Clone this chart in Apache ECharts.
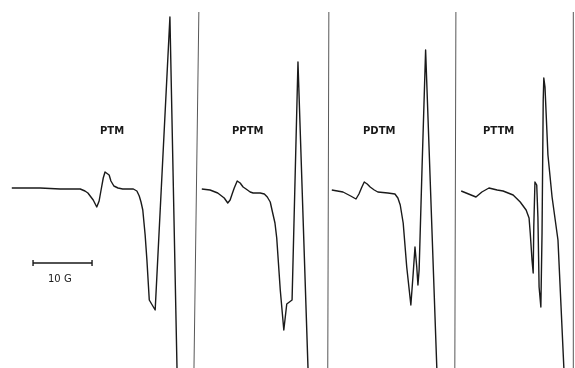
<!DOCTYPE html>
<html>
<head>
<meta charset="utf-8">
<script src="https://cdn.jsdelivr.net/npm/echarts@6/dist/echarts.min.js"></script>
<style>
html,body{margin:0;padding:0;background:#fff;}
#chart{width:575px;height:368px;}
</style>
</head>
<body>
<div id="chart"></div>
<script>
// Spectrum labels
const spectrumNames = ['PTM', 'PPTM', 'PDTM', 'PTTM'];

// Field (G, relative to panel start) and signal (a.u.) for each spectrum
const ptmField  = [2.0, 6.8, 10.2, 13.6, 14.4, 14.9, 15.8, 16.4, 16.8, 17.1, 17.5, 17.8, 18.1, 18.5, 18.8, 19.3, 20.0, 20.8, 22.6, 23.2, 23.6, 23.9, 24.2, 24.6, 24.9, 25.3, 25.8, 26.3, 28.8, 29.0, 30.0, 30.2];
const ptmSignal = [0, 0, -1, -1, -3, -5, -12, -19, -13, -3, 10, 16, 17, 13, 7, 2, 0, -1, -1, -3, -8, -14, -22, -47, -72, -112, -117, -122, 171, 171, -180, -215];

const pptmField  = [2.0, 3.4, 4.7, 5.8, 6.4, 6.8, 7.2, 7.5, 8.0, 8.5, 9.0, 9.5, 10.2, 10.7, 11.9, 12.6, 13.1, 13.6, 13.9, 14.4, 14.7, 15.3, 15.9, 16.4, 17.3, 18.3, 18.5, 20.0, 20.2];
const pptmSignal = [-1, -2, -5, -10, -15, -12, -5, 0, 7, 5, 1, -1, -4, -5, -5, -6, -9, -14, -22, -35, -50, -102, -142, -116, -112, 126, 126, -180, -212];

const pdtmField  = [2.0, 3.9, 5.2, 6.1, 6.6, 7.1, 7.5, 8.0, 8.5, 9.2, 9.8, 11.5, 12.7, 13.2, 13.6, 14.1, 14.7, 15.4, 15.8, 16.1, 16.4, 16.6, 16.8, 17.3, 17.9, 18.1, 19.8, 20.0];
const pdtmSignal = [-2, -4, -8, -11, -6, 1, 6, 4, 1, -2, -4, -5, -6, -10, -17, -35, -79, -117, -85, -59, -79, -97, -82, 21, 138, 138, -180, -212];

const pttmField  = [1.9, 4.4, 5.4, 6.6, 7.3, 8.0, 9.0, 10.7, 11.9, 12.9, 13.4, 13.6, 13.9, 14.1, 14.2, 14.4, 14.7, 14.9, 15.1, 15.4, 15.6, 15.8, 15.9, 16.1, 16.6, 17.3, 18.3, 19.3, 19.4];
const pttmSignal = [-3, -9, -4, 0, -1, -2, -3, -7, -14, -22, -30, -45, -72, -85, -39, 6, 3, -29, -99, -119, -45, 88, 110, 101, 33, -9, -52, -180, -212];

// Pen return (sweep) lines: field (G) and signal at top and bottom
const sweepPanel   = [1, 2, 3, 3];
const sweepFieldTop    = [1.5, 1.5, 1.0, 20.9];
const sweepFieldBottom = [0.6, 1.3, 0.8, 20.9];
const sweepSignalTop = 176;
const sweepSignalBottom = -212;

// Scale bar: 10 G
const scaleBarStart = 5.6;
const scaleBarLength = 10;
const scaleBarLevel = -75;
const scaleBarLabel = '10 G';

const fields  = [ptmField, pptmField, pdtmField, pttmField];
const signals = [ptmSignal, pptmSignal, pdtmSignal, pttmSignal];

const pxPerG = 5.9;
const panels = [
  {left: 0, width: 190},
  {left: 190, width: 130},
  {left: 320, width: 130},
  {left: 450, width: 125}
];
const labelCenters = [113, 245, 376, 496];

const ink = '#1a1a1a';
const grids = [], xAxes = [], yAxes = [], series = [];
panels.forEach((p, i) => {
  grids.push({left: p.left, width: p.width, top: 0, bottom: 0});
  xAxes.push({type: 'value', gridIndex: i, min: 0, max: p.width / pxPerG, show: false});
  yAxes.push({type: 'value', gridIndex: i, min: -180, max: 188, show: false});
  series.push({
    type: 'line', name: spectrumNames[i], xAxisIndex: i, yAxisIndex: i,
    data: fields[i].map((f, k) => [f, signals[i][k]]),
    showSymbol: false, smooth: false, clip: true,
    lineStyle: {color: ink, width: 1.4, join: 'round'},
    silent: true, animation: false
  });
});

sweepPanel.forEach((pi, k) => {
  series.push({
    type: 'line', xAxisIndex: pi, yAxisIndex: pi,
    data: [[sweepFieldTop[k], sweepSignalTop], [sweepFieldBottom[k], sweepSignalBottom]],
    showSymbol: false, clip: true,
    lineStyle: {color: '#444', width: 0.9},
    silent: true, animation: false
  });
});

// Scale bar
const s0 = scaleBarStart, s1 = scaleBarStart + scaleBarLength;
series.push({
  type: 'line', xAxisIndex: 0, yAxisIndex: 0,
  data: [[s0, scaleBarLevel + 3], [s0, scaleBarLevel - 3], '-', [s0, scaleBarLevel], [s1, scaleBarLevel], '-', [s1, scaleBarLevel + 3], [s1, scaleBarLevel - 3]],
  showSymbol: false, connectNulls: false,
  lineStyle: {color: ink, width: 1.4},
  silent: true, animation: false
});

const chart = echarts.init(document.getElementById('chart'), null, {renderer: 'canvas'});
chart.setOption({
  backgroundColor: '#fff',
  animation: false,
  grid: grids,
  xAxis: xAxes,
  yAxis: yAxes,
  series: series,
  graphic: spectrumNames.map((n, i) => ({
    type: 'text', left: labelCenters[i] - 13, top: 126,
    style: {text: n, fill: ink, font: 'bold 10px "DejaVu Sans"'}
  })).concat([{
    type: 'text', left: 48, top: 274,
    style: {text: scaleBarLabel, fill: ink, font: '10px "DejaVu Sans"'}
  }])
});
</script>
</body>
</html>
